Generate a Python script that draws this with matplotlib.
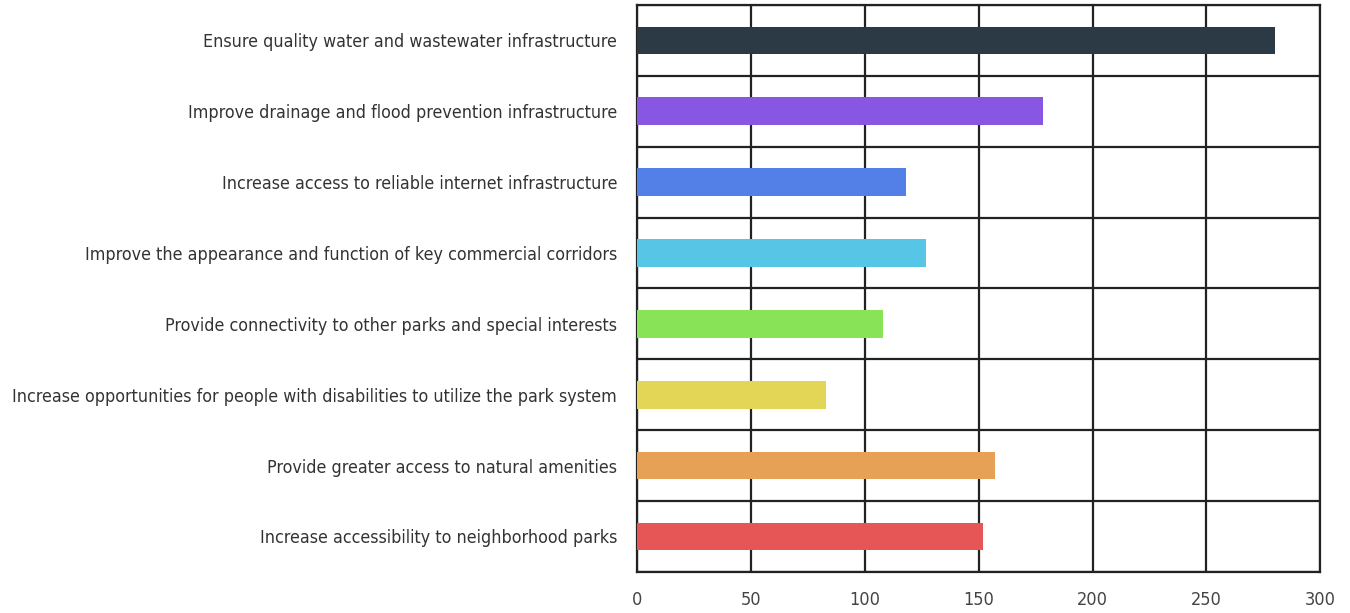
import numpy as np
import matplotlib.pyplot as plt

# Dati (dal basso verso l'alto)
categories = [
    'Increase accessibility to neighborhood parks',
    'Provide greater access to natural amenities',
    'Increase opportunities for people with disabilities to utilize the park system',
    'Provide connectivity to other parks and special interests',
    'Improve the appearance and function of key commercial corridors',
    'Increase access to reliable internet infrastructure',
    'Improve drainage and flood prevention infrastructure',
    'Ensure quality water and wastewater infrastructure',
]
values = [152, 157, 83, 108, 127, 118, 178, 280]
colors = ['#e65656', '#e6a156', '#e3d656', '#88e356',
          '#56c5e6', '#5280e6', '#8856e3', '#2b3a45']
x_ticks = [0, 50, 100, 150, 200, 250, 300]

# DejaVu Sans Condensed per avvicinarsi al font stretto dell'originale
plt.rcParams['font.family'] = ['DejaVu Sans']
plt.rcParams['font.stretch'] = 'condensed'

fig = plt.figure(figsize=(13.5, 6.13), dpi=100)
ax = fig.add_axes([0.472, 0.067, 0.506, 0.925])

y = np.arange(len(categories))
ax.barh(y, values, height=0.39, color=colors, zorder=3)

ax.set_xlim(0, 300)
ax.set_ylim(-0.5, len(categories) - 0.5)
ax.set_xticks(x_ticks)
ax.set_yticks(y)
ax.set_yticklabels(categories, fontsize=12.8, color='#333333')
ax.set_yticks(np.arange(-0.5, len(categories), 1), minor=True)
ax.tick_params(axis='both', which='both', length=0)
ax.tick_params(axis='y', pad=14.5)
ax.tick_params(axis='x', pad=14, labelsize=13, labelcolor='#444444')

ax.grid(axis='x', which='major', color='#222222', linewidth=1.6, zorder=0)
ax.grid(axis='y', which='minor', color='#222222', linewidth=1.6, zorder=0)
ax.grid(axis='y', which='major', visible=False)
for s in ax.spines.values():
    s.set_color('#222222')
    s.set_linewidth(1.6)

fig.savefig('out.png', dpi=100)
